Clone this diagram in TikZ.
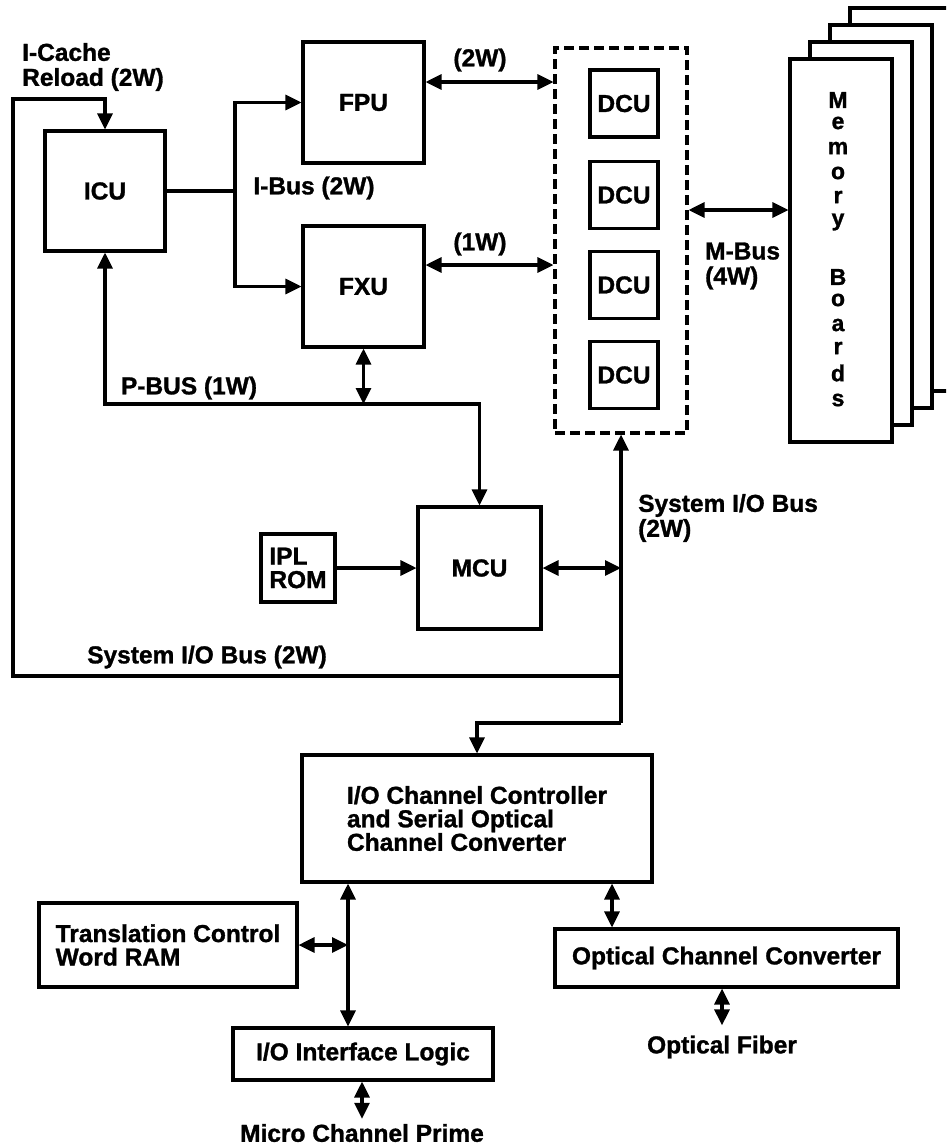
\documentclass[tikz,border=0pt]{standalone}
\usepackage{fontspec}
\setmainfont{Liberation Sans}[BoldFeatures={FakeBold=1.2}]
\usetikzlibrary{arrows.meta}
\tikzset{
  blk/.style={draw, line width=3.1pt, inner sep=0pt, fill=white, align=center,
    font=\bfseries\fontsize{24.5}{23.5}\selectfont},
  lbl/.style={inner sep=0pt, font=\bfseries\fontsize{24.5}{25}\selectfont},
  bus/.style={line width=3.1pt},
  tip/.style={-{Triangle[length=16pt,width=15pt]}},
  dtip/.style={{Triangle[length=16pt,width=15pt]}-{Triangle[length=16pt,width=15pt]}},
}
\begin{document}
\begin{tikzpicture}[x=1pt,y=-1pt]
\useasboundingbox (0,0) rectangle (946,1146);
\clip (0,0) rectangle (946,1146);
\fill[white] (0,0) rectangle (946,1146);

\node[blk, minimum width=120pt, minimum height=120pt] (icu) at (105,191) {ICU};
\node[blk, minimum width=121pt, minimum height=121pt] (fpu) at (363.5,102.5) {FPU};
\node[blk, minimum width=121pt, minimum height=121pt] (fxu) at (363.5,286.5) {FXU};
\node[draw, line width=3.1pt, dash pattern=on 10pt off 5pt, minimum width=132pt, minimum height=385pt] (dcubox) at (621,240.5) {};
\foreach \yy [count=\i] in {103.5,195,285,375}
  \node[blk, minimum width=68pt, minimum height=67pt] (dcu\i) at (624,\yy) {DCU};

\foreach \i/\dx in {4/60,3/40,2/20,1/0}
  \node[blk, minimum width=102pt, minimum height=383pt] (mem\i) at (841+\dx,250.5-0.85*\dx) {};
\foreach \ch/\yy in {M/100,e/123,m/148,o/173,r/197,y/222,B/277,o/300,a/325,r/348,d/373,s/400}
  \node[lbl, font=\bfseries\fontsize{23}{23}\selectfont] (ml\yy) at (838,\yy) {\ch};

\node[blk, minimum width=123pt, minimum height=122pt] (mcu) at (479.5,568) {MCU};
\node[blk, minimum width=74pt, minimum height=68pt, align=left] (iplrom) at (298,568) {IPL\\ROM};
\node[blk, minimum width=350pt, minimum height=127pt, align=left] (iocc) at (477,818.5)
  {I/O Channel Controller\\and Serial Optical\\Channel Converter};
\node[blk, minimum width=258pt, minimum height=84pt, align=left] (tcw) at (168,945)
  {Translation Control\\Word RAM};
\node[blk, minimum width=260pt, minimum height=52pt] (iol) at (363,1054) {I/O Interface Logic};
\node[blk, minimum width=343pt, minimum height=58pt] (occ) at (726.5,958) {Optical Channel Converter};

\node[lbl, anchor=west, align=left] (icache) at (22,67) {I-Cache\\Reload (2W)};
\node[lbl] (ibuslbl) at (314,188) {I-Bus (2W)};
\node[lbl] (fpulbl) at (480,60) {(2W)};
\node[lbl] (fxulbl) at (480,244) {(1W)};
\node[lbl] (pbuslbl) at (189,388) {P-BUS (1W)};
\node[lbl, anchor=west, align=left] (mbuslbl) at (705,266) {M-Bus\\(4W)};
\node[lbl, anchor=west, align=left] (syslbl) at (638,518) {System I/O Bus\\(2W)};
\node[lbl] (sysbotlbl) at (207,657) {System I/O Bus (2W)};
\node[lbl] (mcp) at (362,1133) {Micro Channel Prime};
\node[lbl] (fiber) at (722,1047) {Optical Fiber};

\coordinate (ibus) at (235,191);
\coordinate (pbus) at (0,404);
\coordinate (sysbus) at (0,676);
\coordinate (feed) at (0,723);
\coordinate (reload) at (13,99);
\coordinate (tbus) at (348,0);
\coordinate (obus) at (612,0);

\draw[bus] (icu.east) -- (ibus);
\draw[bus,tip] (ibus) |- (fpu.west);
\draw[bus,tip] (ibus) |- (fxu.west);
\draw[bus,dtip] ([yshift=20.5pt]fpu.east) -- ([yshift=20.5pt]fpu.east -| dcubox.west);
\draw[bus,dtip] ([yshift=21.5pt]fxu.east) -- ([yshift=21.5pt]fxu.east -| dcubox.west);
\draw[bus,dtip] ([yshift=30.5pt]dcubox.east) -- ([yshift=30.5pt]dcubox.east -| mem1.west);

\draw[bus,dtip] (icu.south) -- (icu.south |- pbus) -| (mcu.north);
\draw[bus,dtip] (fxu.south) -- (fxu.south |- pbus);

\draw[bus,tip] (dcubox.south |- feed) -- (dcubox.south);
\draw[bus,tip] (dcubox.south |- sysbus) -| (reload) -| (icu.north);
\draw[bus,tip] (dcubox.south |- feed) -| (iocc.north);
\draw[bus,dtip] (mcu.east) -- (mcu.east -| dcubox.south);
\draw[bus,tip] (iplrom) -- (mcu);

\draw[bus,dtip] (iocc.south -| tbus) -- (iol.north -| tbus);
\draw[bus,dtip] (tcw.east) -- (tcw.east -| tbus);
\draw[bus,dtip] (iocc.south -| obus) -- (occ.north -| obus);
\draw[bus,dtip] (occ.south -| fiber) -- ([yshift=10pt]fiber.north);
\draw[bus,dtip] (iol.south -| mcp) -- ([yshift=5pt]mcp.north);
\end{tikzpicture}
\end{document}
